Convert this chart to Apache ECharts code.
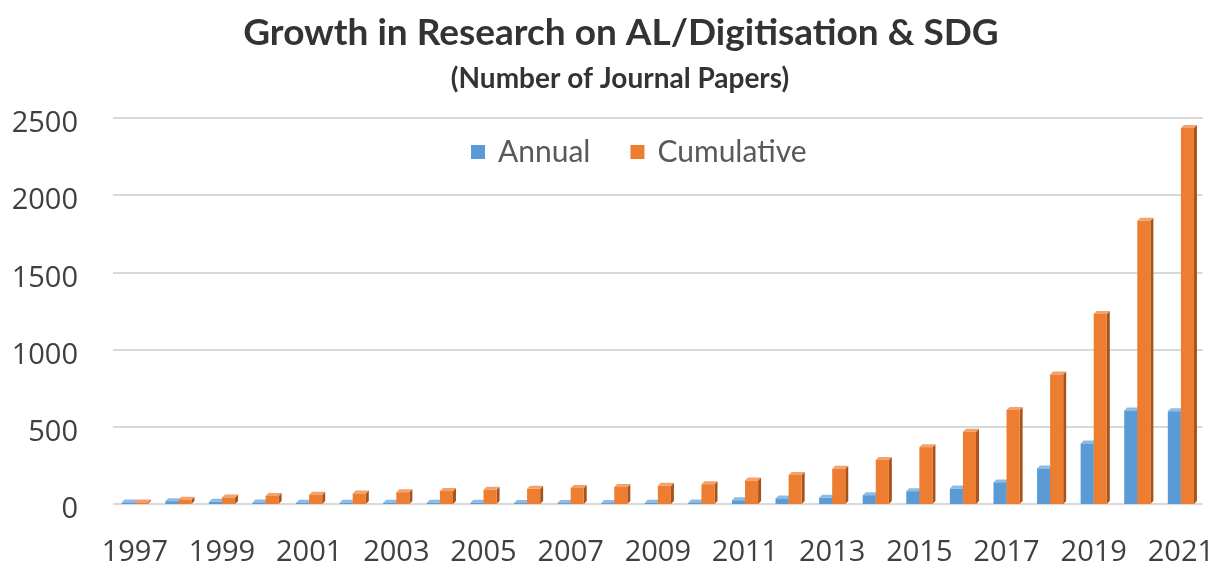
<!DOCTYPE html>
<html>
<head>
<meta charset="utf-8">
<script src="https://cdn.jsdelivr.net/npm/echarts@6/dist/echarts.min.js"></script>
<style>
  html, body { margin: 0; padding: 0; background: #ffffff; }
  #chart { width: 1217px; height: 567px; }
</style>
</head>
<body>
<div id="chart"></div>
<script>
// Journal papers per year and running total
const years = ['1997','1998','1999','2000','2001','2002','2003','2004','2005','2006','2007','2008',
  '2009','2010','2011','2012','2013','2014','2015','2016','2017','2018','2019','2020','2021'];
const annual = [10, 18, 14, 10, 8, 8, 8, 8, 8, 6, 6, 6, 8, 10, 24, 36, 40, 57, 83, 100, 140, 230, 392, 605, 600];
const cumulative = [10, 28, 42, 52, 60, 68, 76, 84, 92, 98, 104, 110, 118, 128, 152, 188, 228, 285, 368, 468, 608, 838, 1230, 1835, 2435];
const yTicks = [0, 500, 1000, 1500, 2000, 2500];

const palette = {
  Annual:     { front: '#5B9BD5', side: '#3c6f9e', top: '#8dbbe5' },
  Cumulative: { front: '#ED7D31', side: '#a9531b', top: '#f3a26b' }
};

// Column with a shaded side and top face; slot 0 sits left of the category centre, slot 1 right
function columnRenderer(slot, colors) {
  return function (params, api) {
    const idx = api.value(0);
    const val = api.value(1);
    const topPt = api.coord([idx, val]);
    const basePt = api.coord([idx, 0]);
    const band = api.size([1, 0])[0];
    const w = band * 0.3;
    const d = 3;
    const x = topPt[0] + (slot === 0 ? -w : 0);
    const yTop = topPt[1];
    const yBase = basePt[1];
    return {
      type: 'group',
      children: [
        { type: 'polygon', shape: { points: [[x + w, yTop], [x + w + d, yTop - d], [x + w + d, yBase - d], [x + w, yBase]] },
          style: { fill: colors.side } },
        { type: 'polygon', shape: { points: [[x, yTop], [x + d, yTop - d], [x + w + d, yTop - d], [x + w, yTop]] },
          style: { fill: colors.top } },
        { type: 'rect', shape: { x: x, y: yTop, width: w, height: yBase - yTop },
          style: { fill: colors.front } }
      ]
    };
  };
}

const chart = echarts.init(document.getElementById('chart'));
chart.setOption({
  backgroundColor: '#ffffff',
  animation: false,
  title: [
    {
      text: 'Growth in Research on AL/Digitisation & SDG',
      left: 616,
      textAlign: 'center',
      top: 10,
      textStyle: { fontFamily: 'Lato', fontWeight: 'bold', fontSize: 37, color: '#333333' }
    },
    {
      text: '(Number of Journal Papers)',
      left: 615,
      textAlign: 'center',
      top: 60,
      textStyle: { fontFamily: 'Lato', fontWeight: 'bold', fontSize: 28, color: '#333333' }
    }
  ],
  legend: {
    data: ['Annual', 'Cumulative'],
    top: 132,
    left: 466,
    icon: 'rect',
    itemWidth: 14,
    itemHeight: 14,
    itemGap: 40,
    textStyle: { fontFamily: 'Lato', fontSize: 30, color: '#595959', padding: [0, 0, 0, 8] }
  },
  grid: { left: 113, right: 12, top: 118, bottom: 59 },
  xAxis: {
    type: 'category',
    data: years,
    axisLine: { show: false },
    axisTick: { show: false },
    axisLabel: {
      interval: 1,
      margin: 34,
      fontFamily: 'Open Sans',
      fontSize: 29,
      color: '#404040'
    }
  },
  yAxis: {
    type: 'value',
    min: yTicks[0],
    max: yTicks[yTicks.length - 1],
    interval: 500,
    axisLine: { show: false },
    axisTick: { show: false },
    splitLine: { lineStyle: { color: '#d9d9d9', width: 2 } },
    axisLabel: {
      margin: 35,
      verticalAlign: 'top',
      lineHeight: 12,
      fontFamily: 'Open Sans',
      fontSize: 29,
      color: '#404040',
      formatter: (v) => String(v)
    }
  },
  series: [
    {
      name: 'Annual',
      type: 'custom',
      itemStyle: { color: palette.Annual.front },
      renderItem: columnRenderer(0, palette.Annual),
      encode: { x: 0, y: 1 },
      data: annual.map((v, i) => [i, v])
    },
    {
      name: 'Cumulative',
      type: 'custom',
      itemStyle: { color: palette.Cumulative.front },
      renderItem: columnRenderer(1, palette.Cumulative),
      encode: { x: 0, y: 1 },
      data: cumulative.map((v, i) => [i, v])
    }
  ]
});
</script>
</body>
</html>
